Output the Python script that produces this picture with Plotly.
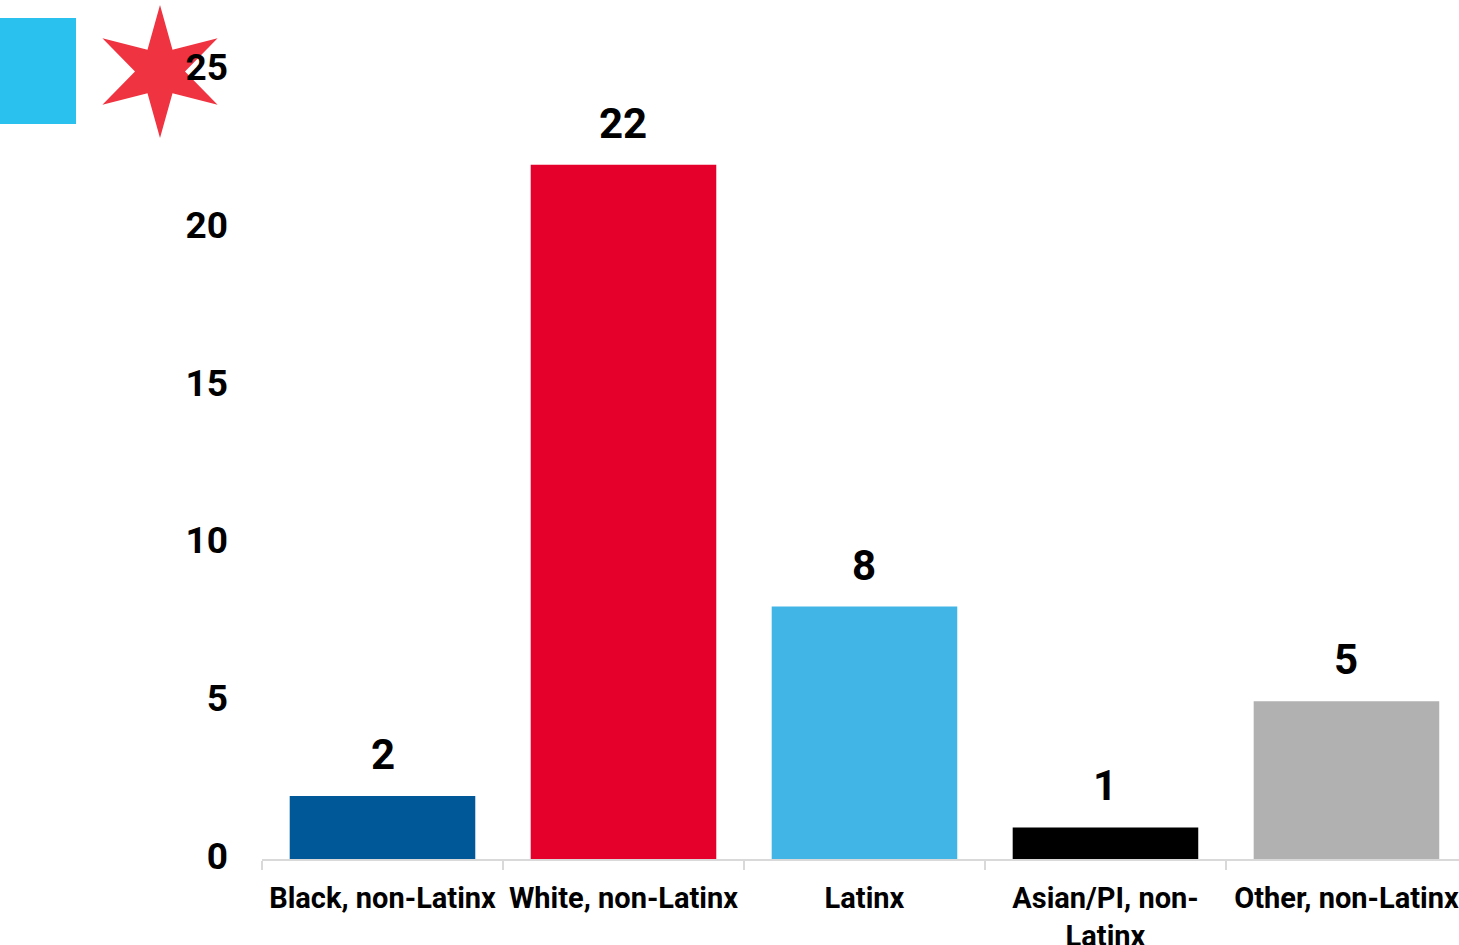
import math
import plotly.graph_objects as go

categories = ["Black, non-Latinx", "White, non-Latinx", "Latinx", "Asian/PI, non-<br>Latinx", "Other, non-Latinx"]
values = [2, 22, 8, 1, 5]
bar_colors = ["#005899", "#E4002B", "#41B6E6", "#000000", "#B1B1B1"]
y_ticks = [0, 5, 10, 15, 20, 25]

W, H = 1459, 945
ML, MR, MT, MB = 262, 0, 70, 86
PW, PH = W - ML - MR, H - MT - MB

def px(x):
    return (x - ML) / PW

def py(y):
    return (H - MB - y) / PH

fig = go.Figure()
fig.add_trace(go.Bar(
    x=categories, y=values, marker=dict(color=bar_colors, line=dict(width=0)),
    width=0.77, hoverinfo="skip", showlegend=False,
))

for c, v in zip(categories, values):
    fig.add_annotation(x=c, y=v, text=str(v), showarrow=False, yanchor="bottom",
                       yshift=15, font=dict(family="Roboto", size=42, color="#000000", weight="bold"))

# Decorative flag elements
shapes = [dict(type="rect", xref="paper", yref="paper", x0=px(-2), x1=px(76), y0=py(124), y1=py(18),
               fillcolor="#2BC1EF", line=dict(width=0), layer="above")]
cx, cy, R, r = 160, 71.5, 66.5, 25
pts = []
for i in range(12):
    ang = math.radians(90 + i * 30)
    rad = R if i % 2 == 0 else r
    pts.append((px(cx + rad * math.cos(ang)), py(cy - rad * math.sin(ang))))
path = "M " + " L ".join(f"{a:.5f},{b:.5f}" for a, b in pts) + " Z"
shapes.append(dict(type="path", xref="paper", yref="paper", path=path, fillcolor="#EF3340",
                   line=dict(width=0), layer="below"))

fig.update_layout(
    width=W, height=H, margin=dict(l=ML, r=MR, t=MT, b=MB, autoexpand=False),
    paper_bgcolor="white", plot_bgcolor="white",
    font=dict(family="Roboto", color="#000000"),
    bargap=0.23, shapes=shapes,
    xaxis=dict(type="category", range=[-0.5, 4.467], showline=True, linecolor="#D9D9D9", linewidth=2,
               ticks="outside", tickson="boundaries", ticklen=9, tickcolor="#D9D9D9", tickwidth=2,
               showgrid=False, tickfont=dict(family="Roboto", size=29, weight="bold", color="#000000"),
               ticklabelstandoff=12, automargin=False),
    yaxis=dict(range=[0, 25], tickvals=y_ticks, showgrid=False, zeroline=False, showline=False,
               tickfont=dict(family="Roboto", size=37, weight="bold", color="#000000"),
               ticklabelstandoff=33, ticklabelshift=-3, automargin=False),
)

fig.write_html("out.html", config={"displayModeBar": False},
               post_script="document.body.style.margin='0';")
